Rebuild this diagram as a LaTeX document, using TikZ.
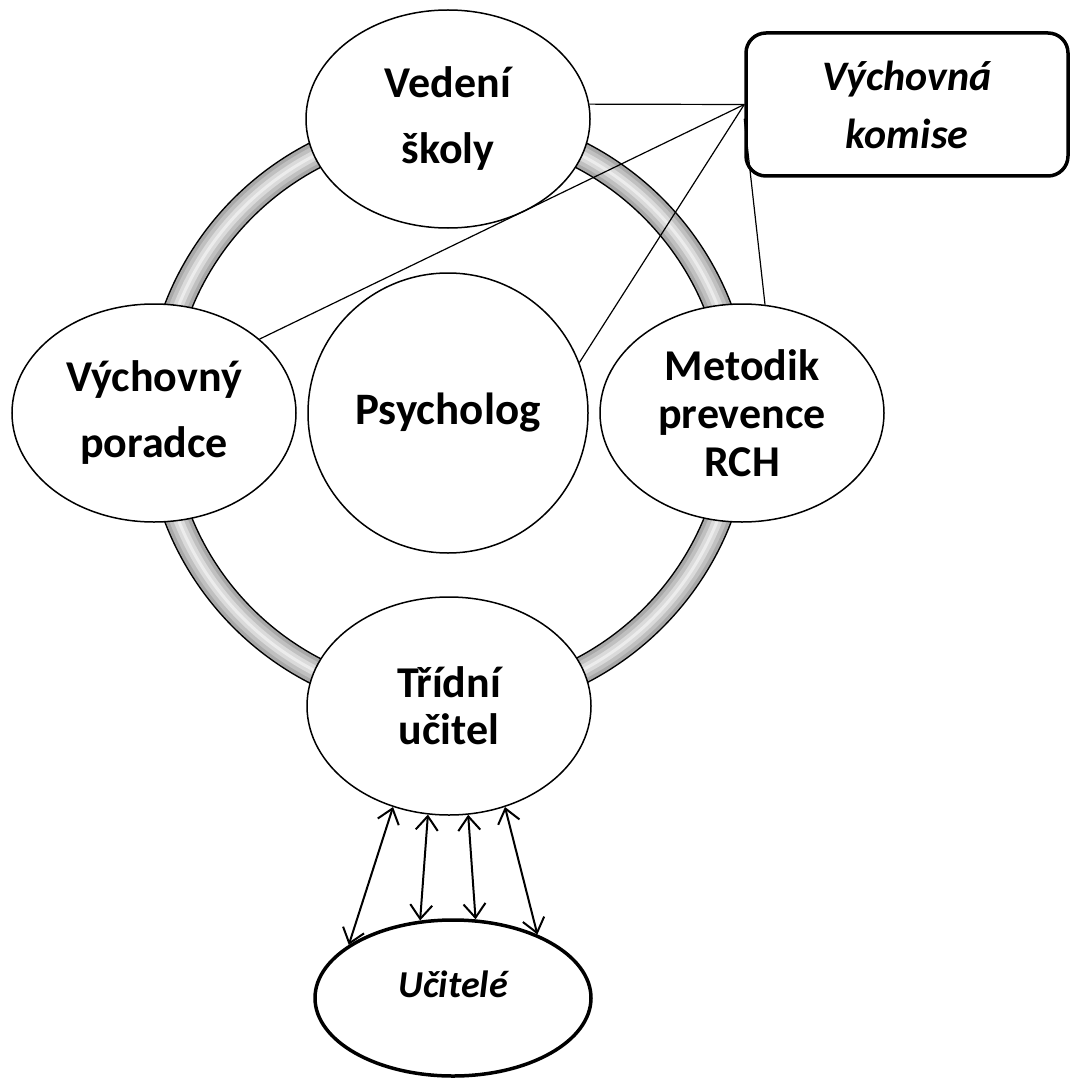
\documentclass[tikz,border=0pt]{standalone}
\usepackage{fontspec}
\setmainfont{Carlito}
\usetikzlibrary{shapes.geometric, shapes, arrows.meta}

\definecolor{ringdark}{RGB}{168,168,168}
\definecolor{ringmid}{RGB}{192,192,192}
\definecolor{ringlight}{RGB}{218,218,218}
\definecolor{ringshine}{RGB}{236,236,236}

\tikzset{
  member/.style={ellipse, draw, fill=white, line width=1.5pt, minimum width=284pt, minimum height=218pt, inner sep=0pt, align=center, font=\bfseries\fontsize{44}{66}\selectfont},
  tight/.style={font=\bfseries\fontsize{44}{48}\selectfont},
  board/.style={rectangle, rounded corners=20pt, draw, fill=white, line width=3.5pt, minimum width=322pt, minimum height=143pt, inner sep=0pt, align=center, font=\bfseries\itshape\fontsize{42}{58}\selectfont},
  link/.style={line width=1.2pt},
  twoway/.style={{Straight Barb[length=14pt,width=22pt]}-{Straight Barb[length=14pt,width=22pt]}, line width=2pt},
}

\begin{document}
\begin{tikzpicture}[x=1pt, y=-1pt]
\useasboundingbox (0,0) rectangle (1072,1078);

% ring behind the team
\coordinate (mid) at (448,413);
\foreach \w/\c in {28/black, 25/ringdark, 18/ringmid, 10/ringlight, 3/ringshine}
  \draw [line width=\w pt, \c] (mid) circle [radius=290pt];

% team
\node [circle, draw, fill=white, line width=1.5pt, minimum size=280pt, inner sep=0pt, font=\bfseries\fontsize{45}{50}\selectfont] (psycholog) at (mid) {Psycholog};
\node [member] (vedeni) at (448,119) {Vedení\\školy};
\node [member] (poradce) at (154,413) {Výchovný\\poradce};
\node [member, tight] (metodik) at (742,413) {Metodik\\prevence\\RCH};
\node [member, font=\bfseries\fontsize{44}{47}\selectfont] (tridni) at (449,706) {Třídní\\učitel};

\node [board] (komise) at (907,104.5) {Výchovná\\komise};
\node [ellipse, draw, fill=white, line width=3.5pt, minimum width=276pt, minimum height=156pt, inner sep=0pt, text depth=27pt, font=\bfseries\itshape\fontsize{38}{44}\selectfont] (ucitele) at (453,998) {Učitelé};

% links of the committee
\draw [link] (komise.west) -- (vedeni.6);
\draw [link] (komise.west) -- (poradce.35);
\draw [link] (komise.west) -- (psycholog.21);
\draw [link] (komise.185) -- (metodik.78);

% class teacher <-> teachers
\draw [twoway] (tridni.241) -- (ucitele.153);
\draw [twoway] (tridni.259) -- (ucitele.113);
\draw [twoway] (tridni.280) -- (ucitele.74);
\draw [twoway] (tridni.299) -- (ucitele.37);
\end{tikzpicture}
\end{document}
